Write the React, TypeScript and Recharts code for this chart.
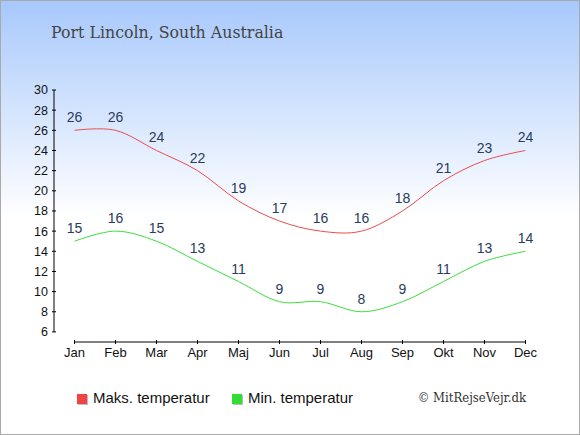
import React from 'react';
import { LineChart, Line, XAxis, YAxis, ReferenceLine, LabelList, Legend } from 'recharts';

const months = ['Jan', 'Feb', 'Mar', 'Apr', 'Maj', 'Jun', 'Jul', 'Aug', 'Sep', 'Okt', 'Nov', 'Dec'];
const maxTemps = [26, 26, 24, 22, 19, 17, 16, 16, 18, 21, 23, 24];
const minTemps = [15, 16, 15, 13, 11, 9, 9, 8, 9, 11, 13, 14];
const yTicks = [6, 8, 10, 12, 14, 16, 18, 20, 22, 24, 26, 28, 30];
const xTicks = months.map((_, i) => i);
const title = 'Port Lincoln, South Australia';
const seriesNames = ['Maks. temperatur', 'Min. temperatur'];
const seriesColors = ['#ee4444', '#33dd33'];
const lineColors = ['#ec4c4c', '#3ddd3d'];
const copyright = '\u00A9 MitRejseVejr.dk';

const data = months.map((m, i) => ({ idx: i, month: m, max: maxTemps[i], min: minTemps[i] }));

// Cardinal (Catmull-Rom style) curve factory, same algorithm as d3.curveCardinal (tension 0)
class Cardinal {
  _context: any;
  _k = 1 / 6;
  _line: number = NaN;
  _point = 0;
  _x0 = NaN; _x1 = NaN; _x2 = NaN;
  _y0 = NaN; _y1 = NaN; _y2 = NaN;
  constructor(context: any) {
    this._context = context;
  }
  areaStart() { this._line = 0; }
  areaEnd() { this._line = NaN; }
  lineStart() {
    this._x0 = this._x1 = this._x2 = NaN;
    this._y0 = this._y1 = this._y2 = NaN;
    this._point = 0;
  }
  lineEnd() {
    switch (this._point) {
      case 2: this._context.lineTo(this._x2, this._y2); break;
      case 3: this.bez(this._x1, this._y1); break;
    }
    if (this._line || (this._line !== 0 && this._point === 1)) this._context.closePath();
    this._line = 1 - this._line;
  }
  bez(x: number, y: number) {
    this._context.bezierCurveTo(
      this._x1 + this._k * (this._x2 - this._x0),
      this._y1 + this._k * (this._y2 - this._y0),
      this._x2 + this._k * (this._x1 - x),
      this._y2 + this._k * (this._y1 - y),
      this._x2,
      this._y2
    );
  }
  point(x: number, y: number) {
    x = +x; y = +y;
    switch (this._point) {
      case 0:
        this._point = 1;
        if (this._line) this._context.lineTo(x, y); else this._context.moveTo(x, y);
        break;
      case 1:
        this._point = 2;
        this._x1 = x; this._y1 = y;
        break;
      case 2:
        this._point = 3;
        this.bez(x, y);
        break;
      default:
        this.bez(x, y);
        break;
    }
    this._x0 = this._x1; this._x1 = this._x2; this._x2 = x;
    this._y0 = this._y1; this._y1 = this._y2; this._y2 = y;
  }
}
const cardinalCurve: any = (context: any) => new Cardinal(context);

const SANS = "'Liberation Sans', Arial, sans-serif";

const XTick = (props: any) => {
  const { x, y, payload } = props;
  return (
    <g>
      <line x1={x} x2={x} y1={y - 2} y2={y + 2} stroke="#000" strokeWidth={1} />
      <text x={x} y={y + 15.2} textAnchor="middle" fontSize={13} fontFamily={SANS} fill="#111">
        {months[payload.value]}
      </text>
    </g>
  );
};

const YTick = (props: any) => {
  const { x, y, payload } = props;
  return (
    <g>
      <line x1={x - 2} x2={x + 2} y1={y} y2={y} stroke="#000" strokeWidth={1} />
      <text x={x - 6} y={y + 4.4} textAnchor="end" fontSize={12.5} fontFamily={SANS} fill="#111">
        {payload.value}
      </text>
    </g>
  );
};

const LegendContent = () => (
  <svg width={580} height={40} style={{ display: 'block' }}>
    <rect x={78} y={15} width={10} height={10} fill="#bbbbbb" />
    <rect x={77} y={14} width={10} height={10} fill={seriesColors[0]} />
    <text x={93} y={23.3} fontSize={15} fontFamily={SANS} fill="#111">{seriesNames[0]}</text>
    <rect x={233} y={15} width={10} height={10} fill="#bbbbbb" />
    <rect x={232} y={14} width={10} height={10} fill={seriesColors[1]} />
    <text x={248} y={23.3} fontSize={15} fontFamily={SANS} fill="#111">{seriesNames[1]}</text>
    <text
      x={526}
      y={21.7}
      textAnchor="end"
      fontSize={13}
      fontFamily="'DejaVu Serif Condensed', 'DejaVu Serif', serif"
      fill="#333"
    >
      {copyright}
    </text>
  </svg>
);

export default function App() {
  return (
    <div
      style={{
        position: 'absolute',
        left: 0,
        top: 0,
        width: 580,
        height: 435,
        background: 'linear-gradient(to bottom, #a7c8fc 0%, #ffffff 50%, #ffffff 100%)',
        fontFamily: SANS,
      }}
    >
      <LineChart
        width={580}
        height={435}
        data={data}
        margin={{ top: 90, right: 34, bottom: 63, left: 14 }}
      >
        <text x={51} y={37.7} fontFamily="'DejaVu Serif', serif" fontSize={15.8} fill="#444">
          {title}
        </text>
        <XAxis
          dataKey="idx"
          type="number"
          domain={[-0.5, 11.5]}
          ticks={xTicks}
          interval={0}
          axisLine={false}
          tickLine={false}
          tickSize={0}
          tickMargin={0}
          height={30}
          tick={<XTick />}
        />
        <YAxis
          type="number"
          domain={[5, 30]}
          ticks={yTicks}
          interval={0}
          axisLine={false}
          tickLine={false}
          tickSize={0}
          tickMargin={0}
          width={40}
          tick={<YTick />}
        />
        <ReferenceLine
          segment={[{ x: -0.5, y: 6 }, { x: -0.5, y: 30 }]}
          stroke="#000"
          strokeWidth={1}
        />
        <ReferenceLine
          segment={[{ x: 0, y: 5 }, { x: 11, y: 5 }]}
          stroke="#000"
          strokeWidth={1}
        />
        <Line
          dataKey="max"
          name={seriesNames[0]}
          type={cardinalCurve}
          stroke={lineColors[0]}
          strokeWidth={1}
          dot={false}
          activeDot={false}
          isAnimationActive={false}
        >
          <LabelList dataKey="max" position="top" offset={8} fontSize={14} fontFamily={SANS} fill="#2a3b5c" />
        </Line>
        <Line
          dataKey="min"
          name={seriesNames[1]}
          type={cardinalCurve}
          stroke={lineColors[1]}
          strokeWidth={1}
          dot={false}
          activeDot={false}
          isAnimationActive={false}
        >
          <LabelList dataKey="min" position="top" offset={8} fontSize={14} fontFamily={SANS} fill="#2a3b5c" />
        </Line>
        <Legend
          layout="horizontal"
          verticalAlign="middle"
          align="center"
          width={580}
          height={40}
          wrapperStyle={{ left: 0, top: 380, width: 580, height: 40, margin: 0, padding: 0 }}
          content={<LegendContent />}
        />
      </LineChart>
      <div
        style={{
          position: 'absolute',
          left: 0,
          top: 0,
          width: 580,
          height: 435,
          boxSizing: 'border-box',
          border: '1px solid #aaaaaa',
          pointerEvents: 'none',
        }}
      />
    </div>
  );
}
